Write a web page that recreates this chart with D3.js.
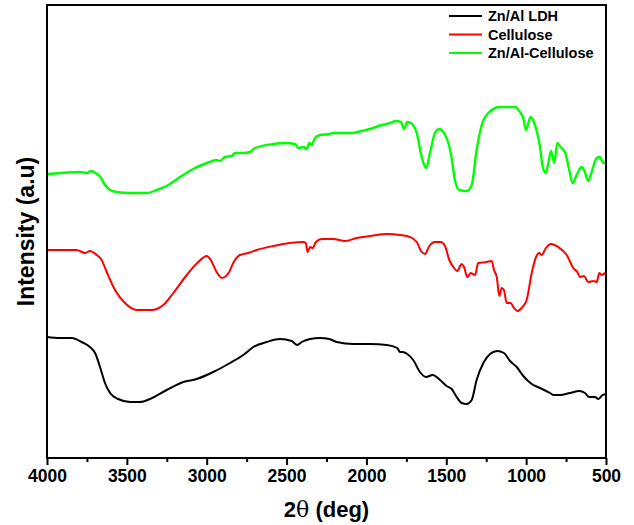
<!DOCTYPE html>
<html>
<head>
<meta charset="utf-8">
<script src="https://cdn.jsdelivr.net/npm/d3@7"></script>
<style>
  html, body { margin: 0; padding: 0; background: #fff; }
  text { font-family: Arial, 'Liberation Sans', sans-serif; font-weight: bold; }
</style>
</head>
<body>
<div id="vis"></div>
<script>
/* Spectra: [wavenumber, intensity (a.u.)] */
var ldhData = [
  [4000, 121], [3920, 120], [3845, 120], [3783, 116], [3731, 111], [3699, 105],
  [3668, 91], [3637, 75], [3605, 65], [3554, 59], [3480, 56], [3418, 56],
  [3355, 59], [3251, 68], [3147, 76], [3063, 79], [2959, 86], [2854, 95],
  [2771, 103], [2708, 111], [2625, 116], [2541, 119], [2468, 117], [2433, 113],
  [2405, 116], [2353, 119], [2291, 120], [2233, 119], [2186, 116], [2082, 114],
  [1978, 114], [1873, 113], [1807, 110], [1790, 106], [1773, 106], [1744, 104],
  [1707, 98], [1665, 86], [1627, 81], [1585, 83], [1539, 78], [1498, 72],
  [1466, 69], [1435, 61], [1404, 55], [1372, 54], [1341, 58], [1310, 78],
  [1268, 95], [1226, 104], [1181, 107], [1139, 105], [1101, 97], [1059, 91],
  [1018, 82], [965, 74], [913, 70], [851, 65], [830, 63], [788, 63],
  [726, 65], [667, 67], [632, 65], [605, 61], [569, 61], [548, 59],
  [521, 63], [500, 64]
];

var celluloseData = [
  [4000, 208], [3920, 208], [3814, 208], [3762, 205], [3731, 207], [3689, 203],
  [3658, 198], [3626, 186], [3574, 168], [3512, 155], [3438, 148], [3344, 148],
  [3272, 153], [3209, 165], [3125, 183], [3053, 196], [3000, 202], [2975, 198],
  [2938, 186], [2906, 180], [2859, 186], [2834, 195], [2792, 203], [2740, 205],
  [2687, 208], [2583, 212], [2479, 215], [2395, 216], [2380, 215], [2368, 206],
  [2353, 211], [2336, 210], [2316, 216], [2280, 219], [2233, 219], [2207, 219],
  [2134, 217], [2061, 220], [1978, 222], [1873, 224], [1790, 223], [1727, 221],
  [1685, 216], [1658, 207], [1633, 204], [1606, 212], [1571, 216], [1535, 216],
  [1508, 212], [1481, 198], [1456, 191], [1431, 187], [1404, 194], [1389, 191],
  [1368, 181], [1347, 185], [1320, 183], [1300, 195], [1247, 196], [1216, 197],
  [1201, 188], [1184, 181], [1168, 162], [1153, 170], [1139, 168], [1122, 155],
  [1097, 155], [1080, 151], [1055, 147], [1028, 150], [997, 158], [965, 185],
  [938, 201], [918, 205], [903, 203], [876, 210], [846, 214], [799, 211],
  [746, 203], [705, 190], [680, 186], [663, 181], [638, 182], [611, 176],
  [580, 177], [558, 176], [542, 185], [527, 183], [500, 186]
];

var compositeData = [
  [4000, 284], [3920, 285], [3795, 286], [3750, 285], [3725, 287], [3695, 285],
  [3665, 281], [3637, 273], [3605, 268], [3565, 266], [3480, 265], [3375, 265],
  [3313, 268], [3240, 273], [3167, 281], [3085, 289], [3000, 295], [2938, 298],
  [2917, 297], [2886, 301], [2844, 302], [2823, 305], [2771, 305], [2729, 306],
  [2698, 310], [2583, 314], [2510, 315], [2447, 314], [2427, 310], [2395, 311],
  [2374, 309], [2358, 315], [2343, 313], [2322, 320], [2291, 323], [2233, 324],
  [2207, 325], [2092, 325], [2030, 327], [1978, 329], [1904, 333], [1852, 335],
  [1815, 337], [1784, 336], [1765, 329], [1744, 336], [1723, 335], [1685, 325],
  [1654, 301], [1627, 290], [1602, 305], [1571, 325], [1544, 329], [1514, 325],
  [1472, 305], [1446, 278], [1419, 268], [1372, 267], [1341, 273], [1310, 308],
  [1278, 333], [1237, 345], [1164, 351], [1070, 351], [1039, 346], [1018, 340],
  [1001, 328], [972, 341], [945, 333], [913, 311], [896, 291], [878, 285],
  [861, 295], [844, 307], [824, 295], [805, 315], [784, 311], [757, 306],
  [730, 288], [709, 275], [684, 283], [652, 291], [632, 286], [611, 277],
  [590, 286], [558, 300], [538, 301], [517, 295], [500, 296]
];

var seriesNames = ['Zn/Al LDH', 'Cellulose', 'Zn/Al-Cellulose'];
var seriesColors = ['#000000', '#ff0000', '#00ff00'];
var majorTicks = [4000, 3500, 3000, 2500, 2000, 1500, 1000, 500];
var minorTicks = [3750, 3250, 2750, 2250, 1750, 1250, 750];

var prefs = {
  width: 634,
  height: 525,
  margins: { top: 5, right: 28, bottom: 67, left: 47 },
  lineWidths: [2, 2, 2.4],
  frameWidth: 2,
  labelY: 'Intensity (a.u)'
};

function init() {
  var m = prefs.margins,
      innerW = prefs.width - m.left - m.right,
      innerH = prefs.height - m.top - m.bottom;

  var svg = d3.select('#vis').append('svg')
    .attr('width', prefs.width)
    .attr('height', prefs.height);

  var xScale = d3.scaleLinear().domain([4000, 500]).range([m.left, m.left + innerW]);
  var yScale = d3.scaleLinear().domain([0, innerH]).range([m.top + innerH, m.top]);

  var line = d3.line()
    .x(function(d) { return xScale(d[0]); })
    .y(function(d) { return yScale(d[1]); })
    .curve(d3.curveMonotoneX);

  /* Spectra */
  [ldhData, celluloseData, compositeData].forEach(function(data, i) {
    svg.append('path')
      .datum(data)
      .attr('d', line)
      .attr('fill', 'none')
      .attr('stroke', seriesColors[i])
      .attr('stroke-width', prefs.lineWidths[i])
      .attr('stroke-linejoin', 'round');
  });

  /* Minor ticks, then major axis */
  svg.append('g')
    .attr('transform', 'translate(0,' + (m.top + innerH) + ')')
    .call(d3.axisBottom(xScale).tickValues(minorTicks).tickSize(4).tickFormat(''))
    .call(function(g) {
      g.select('.domain').remove();
      g.selectAll('line').attr('stroke-width', 2);
    });

  svg.append('g')
    .attr('class', 'x axis')
    .attr('transform', 'translate(0,' + (m.top + innerH) + ')')
    .call(d3.axisBottom(xScale).tickValues(majorTicks).tickSize(7).tickPadding(5)
      .tickFormat(d3.format('d')))
    .call(function(g) {
      g.select('.domain').remove();
      g.selectAll('line').attr('stroke-width', 2);
      g.selectAll('text')
        .attr('fill', '#000')
        .style('font-size', '17.5px');
    });

  /* Frame */
  svg.append('rect')
    .attr('x', m.left)
    .attr('y', m.top)
    .attr('width', innerW)
    .attr('height', innerH)
    .attr('fill', 'none')
    .attr('stroke', '#000')
    .attr('stroke-width', prefs.frameWidth);

  /* Axis titles: theta set in a plain serif like the original */
  var xTitle = svg.append('text')
    .attr('x', m.left + innerW / 2)
    .attr('y', 517)
    .attr('text-anchor', 'middle')
    .style('font-size', '22px');
  xTitle.append('tspan').text('2');
  xTitle.append('tspan')
    .style('font-family', "'DejaVu Serif', serif")
    .style('font-weight', 'normal')
    .text('\u03b8');
  xTitle.append('tspan').text(' (deg)');

  svg.append('text')
    .attr('transform', 'translate(34,' + (m.top + innerH / 2) + ') rotate(-90)')
    .attr('text-anchor', 'middle')
    .style('font-size', '23px')
    .text(prefs.labelY);

  /* Legend */
  var legend = svg.append('g').attr('transform', 'translate(449,16)');

  var items = legend.selectAll('g')
    .data(seriesNames)
    .enter().append('g')
      .attr('transform', function(d, i) { return 'translate(0,' + (i * 18.5) + ')'; });

  items.append('line')
    .attr('x1', 0)
    .attr('x2', 33)
    .attr('stroke', function(d, i) { return seriesColors[i]; })
    .attr('stroke-width', 2);

  items.append('text')
    .attr('x', 39)
    .attr('y', 5)
    .style('font-size', '14.5px')
    .text(function(d) { return d; });
}

init();
</script>
</body>
</html>
